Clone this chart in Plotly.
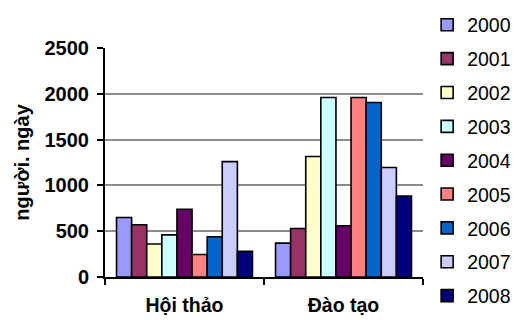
import plotly.graph_objects as go

# Person-days by activity type, one series per year
categories = ["Hội thảo", "Đào tạo"]
years = ["2000", "2001", "2002", "2003", "2004", "2005", "2006", "2007", "2008"]
hoi_thao = [650, 570, 360, 460, 740, 245, 440, 1260, 280]
dao_tao = [370, 530, 1315, 1960, 560, 1960, 1905, 1195, 885]
y_ticks = [0, 500, 1000, 1500, 2000, 2500]

colors = ["#9999FF", "#993366", "#FFFFCC", "#CCFFFF", "#660066",
          "#FF8080", "#0066CC", "#CCCCFF", "#000080"]

FONT = "Liberation Sans, Arial, sans-serif"

fig = go.Figure()
for i, yr in enumerate(years):
    fig.add_trace(go.Bar(
        name=yr,
        x=categories,
        y=[hoi_thao[i], dao_tao[i]],
        marker=dict(color=colors[i], line=dict(color="black", width=1.6)),
        legendgroup=yr,
    ))

fig.update_layout(
    width=517, height=320,
    margin=dict(l=105, r=94, t=48, b=43, autoexpand=False),
    paper_bgcolor="white", plot_bgcolor="white",
    barmode="group", bargap=0.145, bargroupgap=0,
    font=dict(family=FONT, color="black"),
    showlegend=True,
    legend=dict(
        x=1.013, xanchor="left", y=1.185, yanchor="top",
        font=dict(family=FONT, size=19.5, color="black"),
        itemwidth=30, tracegroupgap=5.5, maxheight=1.0,
        bgcolor="rgba(0,0,0,0)",
    ),
    xaxis=dict(
        showline=True, linecolor="black", linewidth=2,
        ticks="outside", tickson="boundaries", ticklen=6, tickcolor="black", tickwidth=2,
        ticklabelstandoff=10,
        tickfont=dict(family=FONT, size=19.5, color="black", weight="bold"),
        showgrid=False,
    ),
    yaxis=dict(
        range=[0, 2500], tickvals=y_ticks,
        showline=True, linecolor="black", linewidth=2,
        ticks="outside", ticklen=6, tickcolor="black", tickwidth=2,
        ticklabelstandoff=4,
        showgrid=True, gridcolor="#8c8c8c", gridwidth=1.5,
        zeroline=False,
        tickfont=dict(family=FONT, size=20, color="black", weight="bold"),
        title=dict(text="người. ngày", standoff=10,
                   font=dict(family=FONT, size=20, color="black", weight="bold")),
    ),
)

fig.write_html("out.html")
